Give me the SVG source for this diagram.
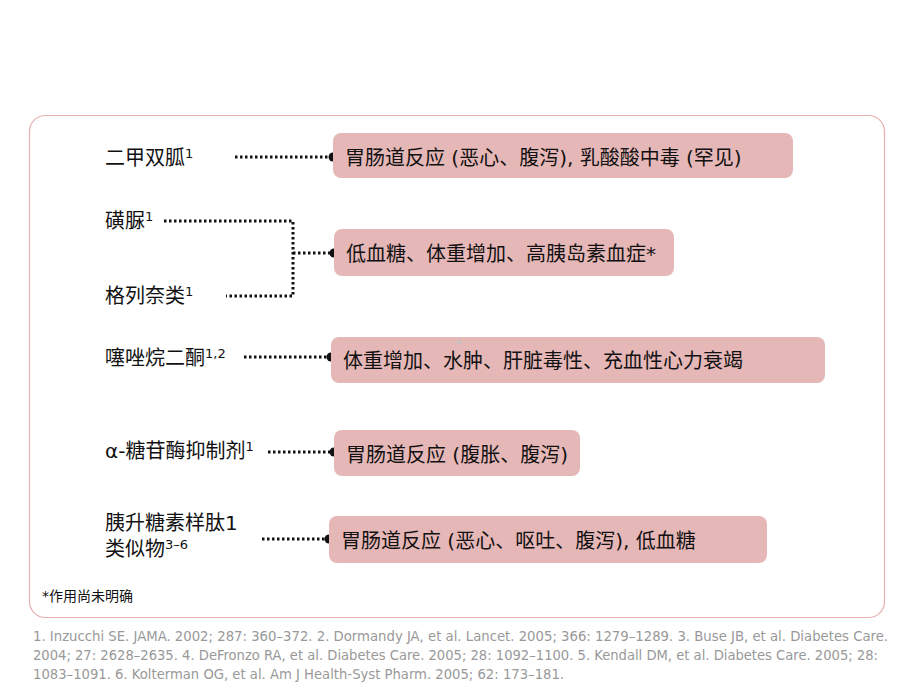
<svg xmlns="http://www.w3.org/2000/svg" width="920" height="690" viewBox="0 0 920 690">
<style>
.lbl{font-family:"DejaVu Sans","Noto Sans CJK SC",sans-serif;font-size:20px;fill:#111}
.sup{font-size:13px}
.box{fill:#e6b7b7}
.bt{font-family:"DejaVu Sans","Noto Sans CJK SC",sans-serif;font-size:20px;fill:#111}
.con{fill:none;stroke:#111;stroke-width:3;stroke-dasharray:2.5 2.5}
.ref{font-family:"DejaVu Sans Condensed","DejaVu Sans",sans-serif;font-size:14.5px;fill:#999}
</style>
<rect width="920" height="690" fill="#fff"/>
<rect x="29.5" y="115.5" width="855" height="502" rx="16" fill="none" stroke="#e8b0b0" stroke-width="1.2"/>
<g id="connectors">
<path class="con" d="M235 157H333"/>
<path class="con" d="M164 221H293V296H226"/>
<path class="con" d="M293 253H334"/>
<path class="con" d="M244 357H331"/>
<path class="con" d="M268 452H334"/>
<path class="con" d="M262 539H329"/>
<circle cx="333" cy="157" r="4.5" fill="#111"/>
<circle cx="334" cy="253" r="4.5" fill="#111"/>
<circle cx="331" cy="357" r="4.5" fill="#111"/>
<circle cx="334" cy="452" r="4.5" fill="#111"/>
<circle cx="329" cy="539" r="4.5" fill="#111"/>
</g>
<g id="n-metformin"><text class="lbl" x="105" y="165">二甲双胍<tspan class="sup" dy="-7">1</tspan></text></g>
<g id="n-su"><text class="lbl" x="105" y="228">磺脲<tspan class="sup" dy="-7">1</tspan></text></g>
<g id="n-glinide"><text class="lbl" x="105" y="303">格列奈类<tspan class="sup" dy="-7">1</tspan></text></g>
<g id="n-tzd"><text class="lbl" x="105" y="365">噻唑烷二酮<tspan class="sup" dy="-7">1,2</tspan></text></g>
<g id="n-agi"><text class="lbl" x="105" y="458">α-糖苷酶抑制剂<tspan class="sup" dy="-7">1</tspan></text></g>
<g id="n-glp1"><text class="lbl" x="105" y="530">胰升糖素样肽1</text><text class="lbl" x="105" y="556">类似物<tspan class="sup" dy="-7">3–6</tspan></text></g>
<g id="b1"><rect class="box" x="333" y="133" width="460" height="45" rx="8"/><text class="bt" x="345" y="165">胃肠道反应 (恶心、腹泻), 乳酸酸中毒 (罕见)</text></g>
<g id="b2"><rect class="box" x="334" y="229" width="340" height="47" rx="8"/><text class="bt" x="346" y="261">低血糖、体重增加、高胰岛素血症*</text></g>
<g id="b3"><rect class="box" x="331" y="337" width="494" height="46" rx="8"/><text class="bt" x="343" y="368">体重增加、水肿、肝脏毒性、充血性心力衰竭</text></g>
<g id="b4"><rect class="box" x="334" y="430" width="246" height="46" rx="8"/><text class="bt" x="346" y="462">胃肠道反应 (腹胀、腹泻)</text></g>
<g id="b5"><rect class="box" x="329" y="516" width="438" height="47" rx="8"/><text class="bt" x="341" y="548">胃肠道反应 (恶心、呕吐、腹泻), 低血糖</text></g>
<rect x="457" y="340" width="4" height="4" fill="#c8c0c0"/>
<text x="42" y="601" font-family="DejaVu Sans,Noto Sans CJK SC,sans-serif" font-size="14" fill="#111">*作用尚未明确</text>
<text class="ref" x="33" y="641" textLength="855" lengthAdjust="spacingAndGlyphs">1. Inzucchi SE. JAMA. 2002; 287: 360–372. 2. Dormandy JA, et al. Lancet. 2005; 366: 1279–1289. 3. Buse JB, et al. Diabetes Care.</text>
<text class="ref" x="33" y="660" textLength="845" lengthAdjust="spacingAndGlyphs">2004; 27: 2628–2635. 4. DeFronzo RA, et al. Diabetes Care. 2005; 28: 1092–1100. 5. Kendall DM, et al. Diabetes Care. 2005; 28:</text>
<text class="ref" x="33" y="679" textLength="531" lengthAdjust="spacingAndGlyphs">1083–1091. 6. Kolterman OG, et al. Am J Health-Syst Pharm. 2005; 62: 173–181.</text>
</svg>
